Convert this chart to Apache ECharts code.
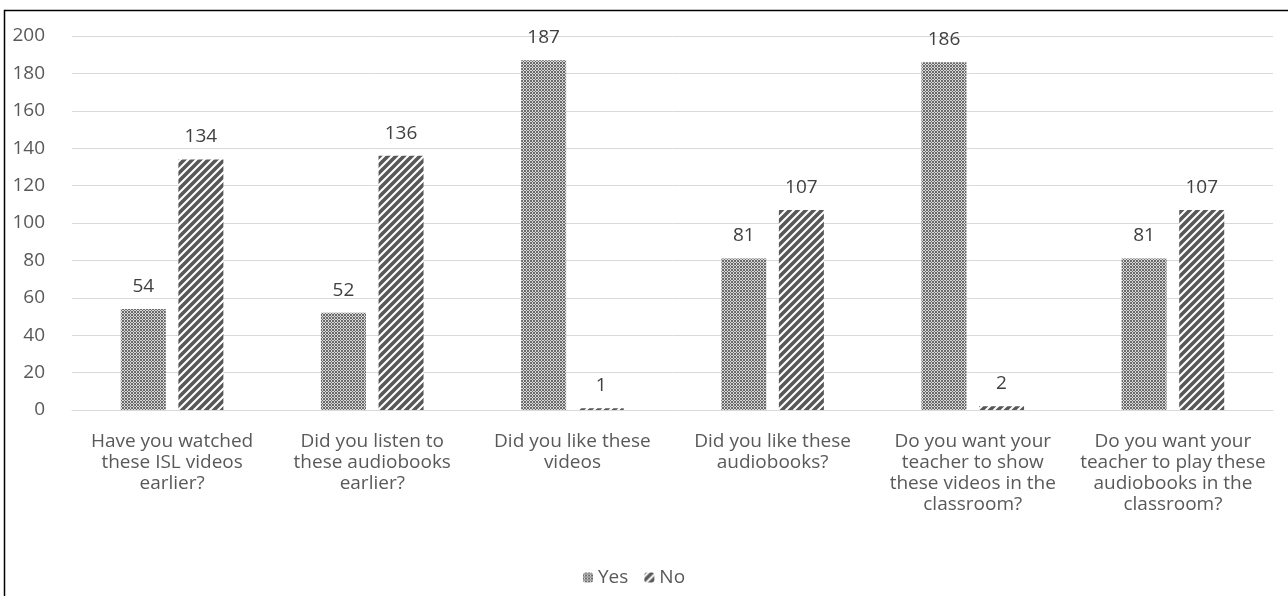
<!DOCTYPE html>
<html>
<head>
<meta charset="utf-8">
<script src="https://cdn.jsdelivr.net/npm/echarts@6/dist/echarts.min.js"></script>
<style>
  html, body { margin: 0; padding: 0; background: #fff; }
  #chart { width: 1288px; height: 596px; }
</style>
</head>
<body>
<div id="chart"></div>
<script>
// Survey questions and answer counts
var categories = [
  'Have you watched\nthese ISL videos\nearlier?',
  'Did you listen to\nthese audiobooks\nearlier?',
  'Did you like these\nvideos',
  'Did you like these\naudiobooks?',
  'Do you want your\nteacher to show\nthese videos in the\nclassroom?',
  'Do you want your\nteacher to play these\naudiobooks in the\nclassroom?'
];
var yesValues = [54, 52, 187, 81, 186, 81];
var noValues = [134, 136, 1, 107, 2, 107];

// Fill patterns for the two series
function checkerPattern() {
  var c = document.createElement('canvas');
  c.width = 6; c.height = 6;
  var g = c.getContext('2d');
  g.fillStyle = '#6a6a6a';
  g.fillRect(0, 0, 6, 6);
  g.fillStyle = '#d8d8d8';
  g.fillRect(1, 0, 1, 1); g.fillRect(4, 0, 1, 1);
  g.fillRect(0, 1, 1, 1); g.fillRect(2, 1, 2, 1); g.fillRect(5, 1, 1, 1);
  g.fillRect(1, 2, 1, 2); g.fillRect(4, 2, 1, 2);
  g.fillRect(0, 4, 1, 1); g.fillRect(2, 4, 2, 1); g.fillRect(5, 4, 1, 1);
  g.fillRect(1, 5, 1, 1); g.fillRect(4, 5, 1, 1);
  return c;
}
function stripePattern() {
  var s = 8;
  var c = document.createElement('canvas');
  c.width = s; c.height = s;
  var g = c.getContext('2d');
  g.fillStyle = '#ffffff';
  g.fillRect(0, 0, s, s);
  g.strokeStyle = '#585858';
  g.lineWidth = 3.6;
  g.beginPath();
  g.moveTo(-s, s * 2); g.lineTo(s * 2, -s);
  g.moveTo(-s, s); g.lineTo(s, -s);
  g.moveTo(0, s * 2); g.lineTo(s * 2, 0);
  g.stroke();
  return c;
}
var yesFill = { image: checkerPattern(), repeat: 'repeat' };
var noFill = { image: stripePattern(), repeat: 'repeat' };

var font = '"Open Sans", sans-serif';
var chart = echarts.init(document.getElementById('chart'), null, { renderer: 'canvas' });
chart.setOption({
  animation: false,
  backgroundColor: '#fff',
  graphic: [{
    type: 'rect',
    shape: { x: 4.5, y: 10.5, width: 1400, height: 700 },
    style: { fill: 'none', stroke: '#000', lineWidth: 1.5 },
    silent: true,
    z: 100
  }],
  grid: { left: 72, right: 15, top: 36, bottom: 186 },
  legend: {
    bottom: 4,
    left: 578,
    itemWidth: 10,
    itemHeight: 10,
    itemGap: 16,
    textStyle: { fontFamily: font, fontSize: 19, color: '#595959' },
    data: ['Yes', 'No']
  },
  xAxis: {
    type: 'category',
    data: categories,
    axisLine: { lineStyle: { color: '#d9d9d9', width: 1 } },
    axisTick: { show: false },
    axisLabel: {
      interval: 0,
      margin: 21,
      fontFamily: font,
      fontSize: 19,
      lineHeight: 21,
      color: '#595959',
      align: 'center',
      verticalAlign: 'top'
    }
  },
  yAxis: {
    type: 'value',
    min: 0,
    max: 200,
    interval: 20,
    axisLine: { show: false },
    axisTick: { show: false },
    splitLine: { lineStyle: { color: '#d9d9d9', width: 1 } },
    axisLabel: { fontFamily: font, fontSize: 19, color: '#595959', margin: 27 }
  },
  series: [
    {
      name: 'Yes',
      type: 'bar',
      data: yesValues,
      barWidth: 45,
      barGap: '28%',
      itemStyle: { color: yesFill },
      label: {
        show: true, position: 'top', distance: 13,
        fontFamily: font, fontSize: 19, color: '#404040'
      }
    },
    {
      name: 'No',
      type: 'bar',
      data: noValues,
      barWidth: 45,
      barGap: '28%',
      itemStyle: { color: noFill },
      label: {
        show: true, position: 'top', distance: 13,
        fontFamily: font, fontSize: 19, color: '#404040'
      }
    }
  ]
});
</script>
</body>
</html>
